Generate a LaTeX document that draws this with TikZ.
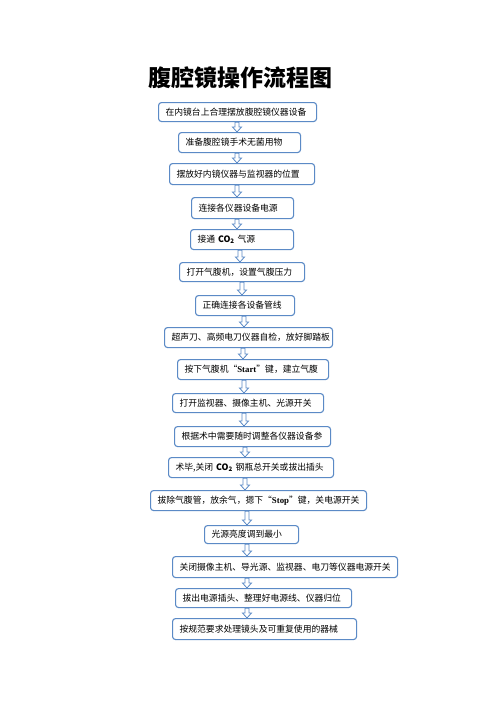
\documentclass[tikz,border=0pt]{standalone}
\usepackage{fontspec}
\setmainfont{Noto Sans CJK SC}
\newfontfamily\latinfont{Liberation Serif}
\usetikzlibrary{calc}
\definecolor{boxblue}{HTML}{5B8AC6}
\tikzset{
  stepbox/.style={draw=boxblue, line width=1.1pt, rounded corners=3pt, fill=white,
    anchor=north west, inner xsep=7pt, inner ysep=0pt, align=left,
    font=\fontsize{8.8}{10}\selectfont},
  flow/.style={draw=boxblue, fill=white, line width=0.8pt,
    to path={let \p1=(\tikztostart), \p2=(\tikztotarget) in
      (\x1-2pt,\y1) -- (\x1-2pt,\y2+5pt) -- (\x1-4.5pt,\y2+5pt) -- (\x1,\y2)
      -- (\x1+4.5pt,\y2+5pt) -- (\x1+2pt,\y2+5pt) -- (\x1+2pt,\y1) -- cycle}},
}

\begin{document}
\begin{tikzpicture}[x=1pt,y=-1pt]
      \fill[white] (0,0) rectangle (496,702);
      \useasboundingbox (0,0) rectangle (496,702);
      \node[font=\bfseries\fontsize{23}{26}\selectfont] (title) at (240,78) {腹腔镜操作流程图};
      % steps
      \node[stepbox, text width=144pt, minimum height=19pt] (b1) at (158,102) {\mbox{在内镜台上合理摆放腹腔镜仪器设备}};
      \node[stepbox, text width=108pt, minimum height=20pt] (b2) at (178,132) {\mbox{准备腹腔镜手术无菌用物}};
      \node[stepbox, text width=131pt, minimum height=21pt] (b3) at (169,163) {\mbox{摆放好内镜仪器与监视器的位置}};
      \node[stepbox, text width=88pt, minimum height=21pt] (b4) at (191,197) {\mbox{连接各仪器设备电源}};
      \node[stepbox, text width=89pt, minimum height=20pt] (b5) at (190,229) {\mbox{接通 {\bfseries CO\textsubscript{2}} 气源}};
      \node[stepbox, text width=111pt, minimum height=19pt] (b6) at (179,262) {\mbox{打开气腹机，设置气腹压力}};
      \node[stepbox, text width=85pt, minimum height=20pt] (b7) at (195,295) {\mbox{正确连接各设备管线}};
      \node[stepbox, text width=154pt, minimum height=20pt] (b8) at (164,327) {\mbox{超声刀、高频电刀仪器自检，放好脚踏板}};
      \node[stepbox, text width=137pt, minimum height=20pt] (b9) at (177,359) {\mbox{按下气腹机“{\latinfont\bfseries Start}”键，建立气腹}};
      \node[stepbox, text width=137pt, minimum height=19pt] (b10) at (172,393) {\mbox{打开监视器、摄像主机、光源开关}};
      \node[stepbox, text width=142pt, minimum height=20pt] (b11) at (174,426) {\mbox{根据术中需要随时调整各仪器设备参}};
      \node[stepbox, text width=151pt, minimum height=20pt] (b12) at (168,457) {\mbox{术毕,关闭 {\bfseries CO\textsubscript{2}} 钢瓶总开关或拔出插头}};
      \node[stepbox, text width=202pt, minimum height=20pt] (b13) at (150,490) {\mbox{拔除气腹管，放余气，摁下“{\latinfont\bfseries Stop}”键，关电源开关}};
      \node[stepbox, text width=80pt, minimum height=18pt] (b14) at (204,525) {\mbox{光源亮度调到最小}};
      \node[stepbox, text width=211pt, minimum height=21pt] (b15) at (172,556) {\mbox{关闭摄像主机、导光源、监视器、电刀等仪器电源开关}};
      \node[stepbox, text width=162pt, minimum height=19pt] (b16) at (175,588) {\mbox{拔出电源插头、整理好电源线、仪器归位}};
      \node[stepbox, text width=170pt, minimum height=21pt] (b17) at (172,618) {\mbox{按规范要求处理镜头及可重复使用的器械}};
      % arrows
      \draw[flow] (237,0 |- b1.south) to (237,0 |- b2.north);
      \draw[flow] (237,0 |- b2.south) to (237,0 |- b3.north);
      \draw[flow] (237,0 |- b3.south) to (237,0 |- b4.north);
      \draw[flow] (237,0 |- b4.south) to (237,0 |- b5.north);
      \draw[flow] (240,0 |- b5.south) to (240,0 |- b6.north);
      \draw[flow] (242,0 |- b6.south) to (242,0 |- b7.north);
      \draw[flow] (244,0 |- b7.south) to (244,0 |- b8.north);
      \draw[flow] (243,0 |- b8.south) to (243,0 |- b9.north);
      \draw[flow] (244,0 |- b9.south) to (244,0 |- b10.north);
      \draw[flow] (244,0 |- b10.south) to (244,0 |- b11.north);
      \draw[flow] (245,0 |- b11.south) to (245,0 |- b12.north);
      \draw[flow] (245,0 |- b12.south) to (245,0 |- b13.north);
      \draw[flow] (247,0 |- b13.south) to (247,0 |- b14.north);
      \draw[flow] (247,0 |- b14.south) to (247,0 |- b15.north);
      \draw[flow] (247,0 |- b15.south) to (247,0 |- b16.north);
      \draw[flow] (247,0 |- b16.south) to (247,0 |- b17.north);
\end{tikzpicture}
\end{document}
